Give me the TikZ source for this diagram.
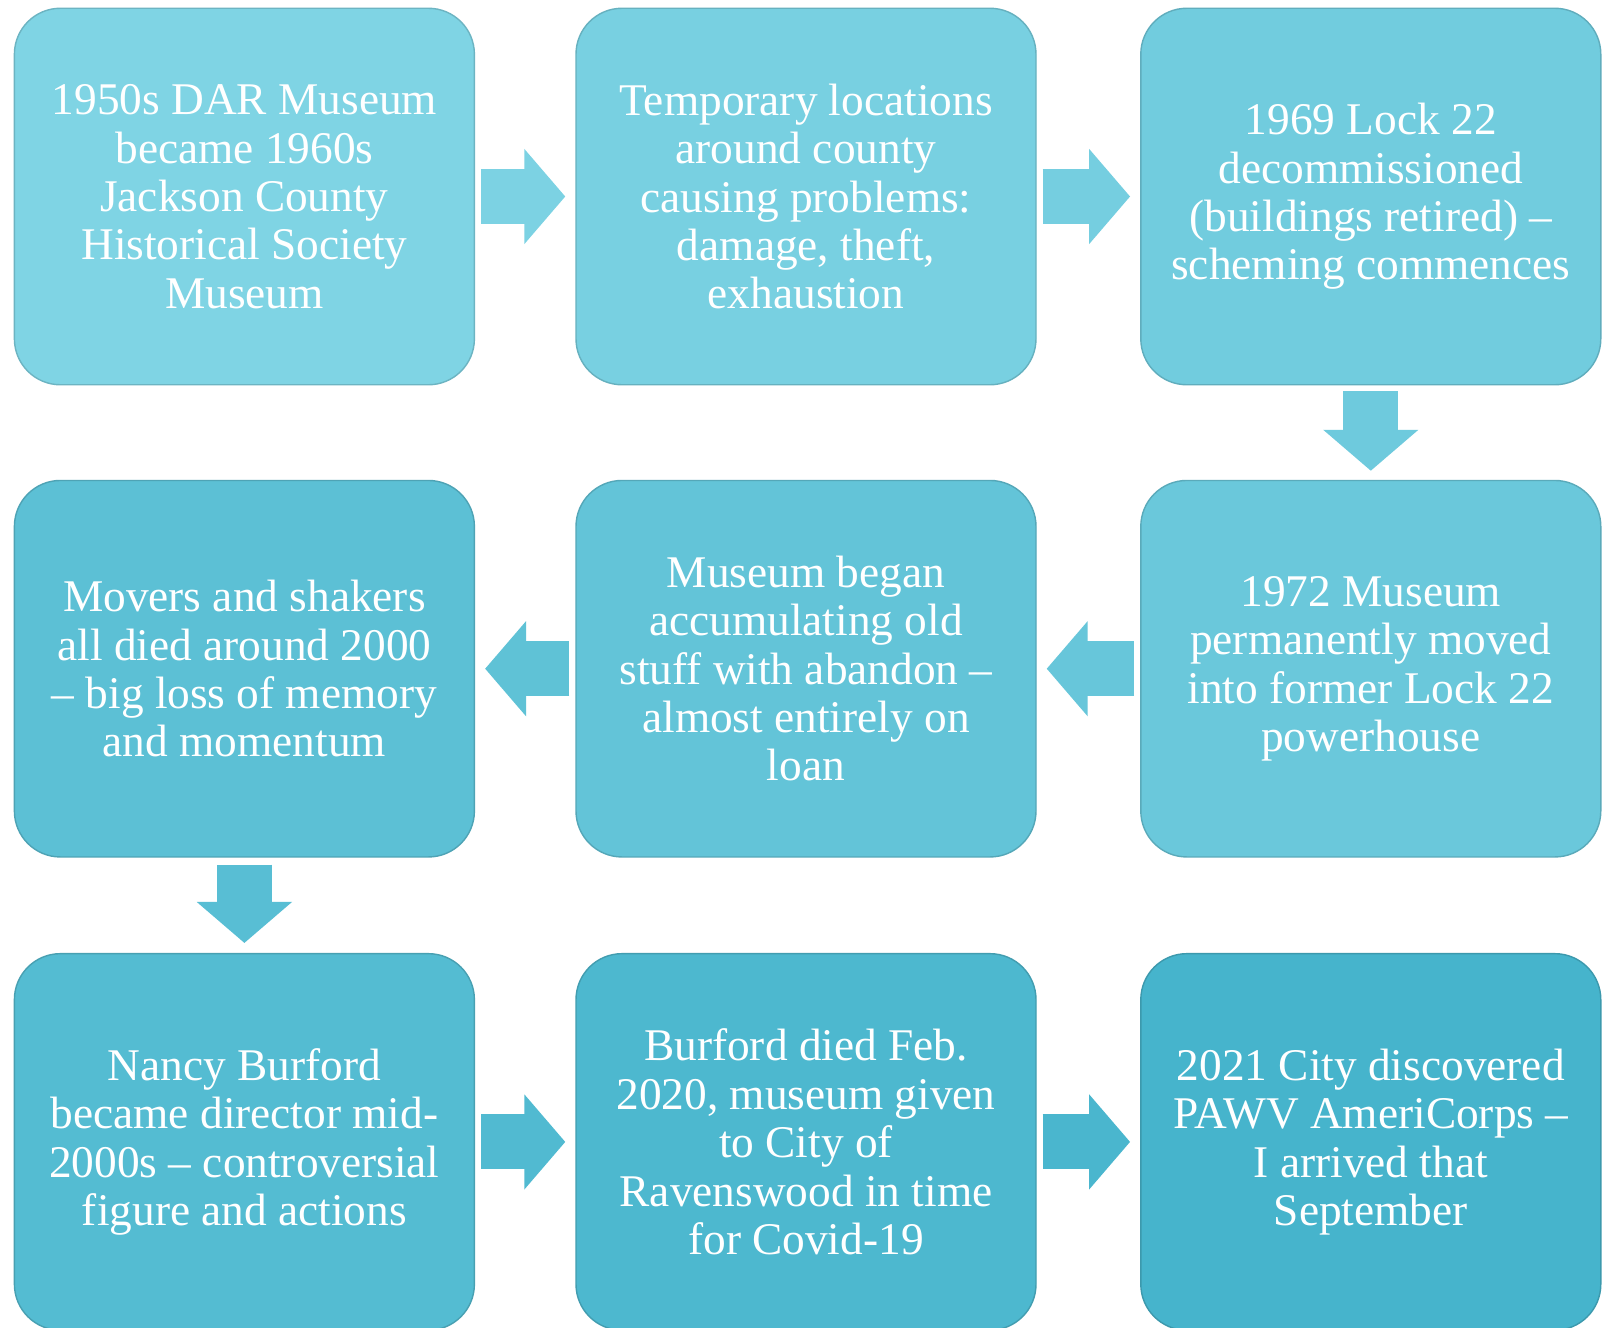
\documentclass[tikz,border=0pt]{standalone}
\usepackage{fontspec}
\setmainfont{Liberation Serif}
\usepackage{xcolor}
\definecolor{color1}{RGB}{127, 212, 228}
\definecolor{color2}{RGB}{70, 180, 204}
\usetikzlibrary{arrows.meta}
\tikzset{
	box/.style = {rounded corners = 0.46cm, minimum width = 4.6cm, minimum height = 3.765cm, inner sep = 0pt,
		text = white, align = center, font = \fontsize{12.9}{13.76}\selectfont},
	flow/.style = {line width = 0.55cm, -{Triangle[length = 0.41cm, width = 0.93cm]}}
}

\begin{document}
\begin{tikzpicture}
	\useasboundingbox[fill = white] (0, 0) rectangle (16.13, -13.27);

	\node[box, fill = color2!0!color1, draw = color2!0!color1!85!black] (dar) at (2.444, -1.965) {1950s DAR Museum\\became 1960s\\Jackson County\\Historical Society\\Museum};
	\node[box, fill = color2!12!color1, draw = color2!12!color1!85!black] (temp) at (8.06, -1.965) {Temporary locations\\around county\\causing problems:\\damage, theft,\\exhaustion};
	\node[box, fill = color2!25!color1, draw = color2!25!color1!85!black] (lock) at (13.708, -1.965) {1969 Lock 22\\decommissioned\\(buildings retired) --\\scheming commences};
	\node[box, fill = color2!37!color1, draw = color2!37!color1!85!black] (move) at (13.708, -6.687) {1972 Museum\\permanently moved\\into former Lock 22\\powerhouse};
	\node[box, fill = color2!50!color1, draw = color2!50!color1!85!black] (loan) at (8.06, -6.687) {Museum began\\accumulating old\\stuff  with abandon --\\almost entirely on\\loan};
	\node[box, fill = color2!62!color1, draw = color2!62!color1!85!black] (movers) at (2.444, -6.687) {Movers and shakers\\all died around 2000\\-- big loss of  memory\\and momentum};
	\node[box, fill = color2!75!color1, draw = color2!75!color1!85!black] (nancy) at (2.444, -11.419) {Nancy Burford\\became director mid-\\2000s -- controversial\\figure and actions};
	\node[box, fill = color2!87!color1, draw = color2!87!color1!85!black] (burford) at (8.06, -11.419) {Burford died Feb.\\2020, museum given\\to City of\\Ravenswood in time\\for Covid-19};
	\node[box, fill = color2!100!color1, draw = color2!100!color1!85!black] (city) at (13.708, -11.419) {2021 City discovered\\PAWV AmeriCorps --\\I arrived that\\September};

	\draw[flow, color2!5!color1] ([xshift = 0.06cm]dar.east) -- ([xshift = -0.1cm]temp.west);
	\draw[flow, color2!18!color1] ([xshift = 0.06cm]temp.east) -- ([xshift = -0.1cm]lock.west);
	\draw[flow, color2!30!color1] ([yshift = -0.06cm]lock.south) -- ([yshift = 0.09cm]move.north);
	\draw[flow, color2!43!color1] ([xshift = -0.06cm]move.west) -- ([xshift = 0.1cm]loan.east);
	\draw[flow, color2!56!color1] ([xshift = -0.06cm]loan.west) -- ([xshift = 0.1cm]movers.east);
	\draw[flow, color2!68!color1] ([yshift = -0.07cm]movers.south) -- ([yshift = 0.1cm]nancy.north);
	\draw[flow, color2!80!color1] ([xshift = 0.06cm]nancy.east) -- ([xshift = -0.1cm]burford.west);
	\draw[flow, color2!93!color1] ([xshift = 0.06cm]burford.east) -- ([xshift = -0.1cm]city.west);
\end{tikzpicture}
\end{document}
